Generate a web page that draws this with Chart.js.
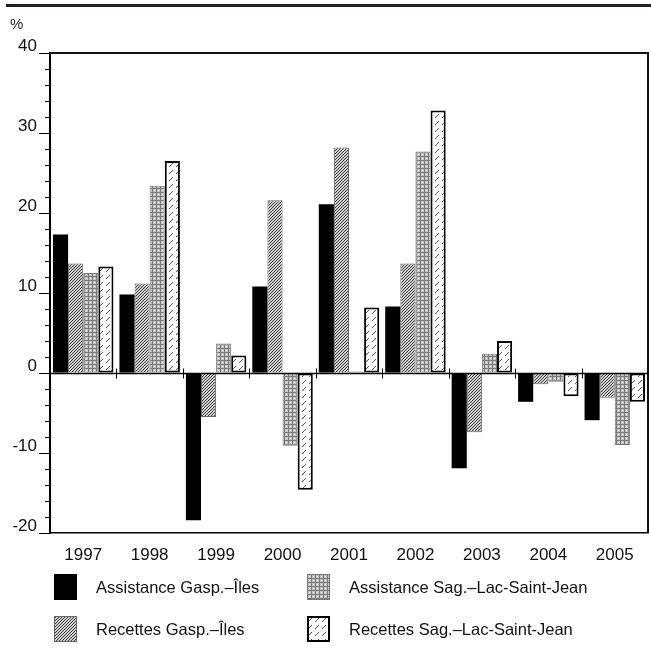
<!DOCTYPE html>
<html>
<head>
<meta charset="utf-8">
<script src="https://cdn.jsdelivr.net/npm/chart.js@4"></script>
<style>
body { margin: 0; background: #fff; font-family: "Liberation Sans", Arial, sans-serif; }
#wrap { position: relative; width: 651px; height: 649px; }
#topbar { position: absolute; left: 6px; top: 4px; width: 645px; height: 3px; background: #231f20; }
#pct { position: absolute; left: 10px; top: 15px; font-size: 15px; color: #222; }
.leg { position: absolute; font-size: 16.5px; color: #111; display: flex; align-items: center; }
.leg canvas { margin-right: 19px; }
</style>
</head>
<body>
<div id="wrap">
  <canvas id="chart" width="651" height="649"></canvas>
  <div id="topbar"></div>
  <div id="pct">%</div>
  <div id="legend"></div>
</div>
<script>
'use strict';

const years = ['1997', '1998', '1999', '2000', '2001', '2002', '2003', '2004', '2005']
const assistanceGasp = [17.3, 9.8, -18.4, 10.8, 21.1, 8.3, -11.9, -3.6, -5.9]
const recettesGasp = [13.7, 11.2, -5.5, 21.6, 28.2, 13.7, -7.4, -1.4, -3.1]
const assistanceSag = [12.5, 23.4, 3.7, -9.1, 0.2, 27.7, 2.4, -1.1, -9.0]
const recettesSag = [13.3, 26.5, 2.2, -14.6, 8.2, 32.8, 4.0, -2.9, -3.6]
const yMajorTicks = [-20, -10, 0, 10, 20, 30, 40]

// little tiles for the fill patterns
function makeTile(kind) {
    const c = document.createElement('canvas')
    const g = c.getContext('2d')
    if (kind === 'dense') {
        c.width = 3; c.height = 3
        g.fillStyle = '#d2d2d2'; g.fillRect(0, 0, 3, 3)
        g.fillStyle = '#3a3a3a'
        g.fillRect(0, 2, 1, 1); g.fillRect(1, 1, 1, 1); g.fillRect(2, 0, 1, 1)
    } else if (kind === 'grid') {
        c.width = 4; c.height = 4
        g.fillStyle = '#c4c4c4'; g.fillRect(0, 0, 4, 4)
        g.fillStyle = '#7a7a7a'
        g.fillRect(0, 0, 4, 1); g.fillRect(0, 0, 1, 4)
        g.fillStyle = '#f2f2f2'; g.fillRect(2, 2, 1, 1)
    } else {
        c.width = 7; c.height = 7
        g.fillStyle = '#ffffff'; g.fillRect(0, 0, 7, 7)
        g.fillStyle = '#555'
        g.fillRect(1, 5, 1, 1); g.fillRect(2, 4, 1, 1); g.fillRect(3, 3, 1, 1); g.fillRect(4, 2, 1, 1)
    }
    return c
}

const ctx0 = document.getElementById('chart').getContext('2d')
const densePat = ctx0.createPattern(makeTile('dense'), 'repeat')
const gridPat = ctx0.createPattern(makeTile('grid'), 'repeat')
const sparsePat = ctx0.createPattern(makeTile('sparse'), 'repeat')

const series = [
    { label: 'Assistance Gasp.–Îles', data: assistanceGasp, backgroundColor: '#000', borderColor: '#000', borderWidth: 0 },
    { label: 'Recettes Gasp.–Îles', data: recettesGasp, backgroundColor: densePat, borderColor: '#666', borderWidth: 1 },
    { label: 'Assistance Sag.–Lac-Saint-Jean', data: assistanceSag, backgroundColor: gridPat, borderColor: '#777', borderWidth: 1 },
    { label: 'Recettes Sag.–Lac-Saint-Jean', data: recettesSag, backgroundColor: sparsePat, borderColor: '#000', borderWidth: 2, borderSkipped: false },
]

// frame, minor ticks, zero line with the group ticks
const decor = {
    id: 'decor',
    afterDraw(chart) {
        const { ctx, chartArea: a, scales: { x, y } } = chart
        ctx.save()
        ctx.strokeStyle = '#111'
        ctx.lineWidth = 2
        ctx.beginPath()
        ctx.moveTo(a.left, a.top); ctx.lineTo(a.right, a.top); ctx.lineTo(a.right, a.bottom)
        ctx.stroke()

        ctx.lineWidth = 1
        ctx.strokeStyle = '#000'
        y.ticks.forEach(t => {
            if (yMajorTicks.includes(t.value)) return
            const py = Math.round(y.getPixelForValue(t.value)) + 0.5
            ctx.beginPath(); ctx.moveTo(a.left - 5, py); ctx.lineTo(a.left, py); ctx.stroke()
        })

        const y0 = Math.round(y.getPixelForValue(0)) + 0.5
        ctx.lineWidth = 1.5
        ctx.beginPath(); ctx.moveTo(a.left, y0); ctx.lineTo(a.right, y0); ctx.stroke()
        ctx.lineWidth = 1
        for (let i = 1; i < years.length; i++) {
            const px = Math.round((x.getPixelForValue(i - 1) + x.getPixelForValue(i)) / 2) + 0.5
            ctx.beginPath(); ctx.moveTo(px, y0 - 5); ctx.lineTo(px, y0 + 5); ctx.stroke()
        }
        ctx.restore()
    }
}

Chart.defaults.font.family = '"Liberation Sans", Arial, sans-serif'
Chart.defaults.color = '#111'

new Chart(document.getElementById('chart'), {
    type: 'bar',
    data: { labels: years, datasets: series },
    options: {
        responsive: false,
        animation: false,
        devicePixelRatio: 1,
        layout: { padding: { left: 0, top: 53, right: 3, bottom: 86 } },
        datasets: { bar: { categoryPercentage: 0.91, barPercentage: 1.0 } },
        plugins: { legend: { display: false }, tooltip: { enabled: false } },
        scales: {
            x: {
                grid: { display: false },
                border: { display: true, color: '#000', width: 1.5 },
                ticks: { font: { size: 17 }, padding: 4 },
                afterFit(s) { s.height = 30 }
            },
            y: {
                min: -20,
                max: 40,
                grid: {
                    drawOnChartArea: false,
                    drawTicks: true,
                    tickLength: 11,
                    tickColor: c => (c.tick && yMajorTicks.includes(c.tick.value)) ? '#000' : 'rgba(0,0,0,0)'
                },
                border: { display: true, color: '#000', width: 2 },
                ticks: {
                    stepSize: 2,
                    autoSkip: false,
                    padding: 2,
                    labelOffset: -7,
                    font: { size: 17 },
                    callback: v => yMajorTicks.includes(v) ? String(v) : ''
                },
                afterFit(s) { s.width = 50 }
            }
        }
    },
    plugins: [decor]
})

// legend in two columns, like the printed one
const legendSpots = [
    { i: 0, left: 54, top: 574 },
    { i: 2, left: 307, top: 574 },
    { i: 1, left: 54, top: 616 },
    { i: 3, left: 307, top: 616 },
]
const legendBox = document.getElementById('legend')
legendSpots.forEach(spot => {
    const ds = series[spot.i]
    const item = document.createElement('div')
    item.className = 'leg'
    item.style.left = spot.left + 'px'
    item.style.top = spot.top + 'px'
    const sw = document.createElement('canvas')
    sw.width = 23; sw.height = 26
    const g = sw.getContext('2d')
    g.fillStyle = ds.backgroundColor
    g.fillRect(0, 0, 23, 26)
    if (ds.borderWidth) {
        g.strokeStyle = ds.borderColor
        g.lineWidth = ds.borderWidth
        g.strokeRect(ds.borderWidth / 2, ds.borderWidth / 2, 23 - ds.borderWidth, 26 - ds.borderWidth)
    }
    const txt = document.createElement('span')
    txt.textContent = ds.label
    item.appendChild(sw)
    item.appendChild(txt)
    legendBox.appendChild(item)
})
</script>
</body>
</html>
